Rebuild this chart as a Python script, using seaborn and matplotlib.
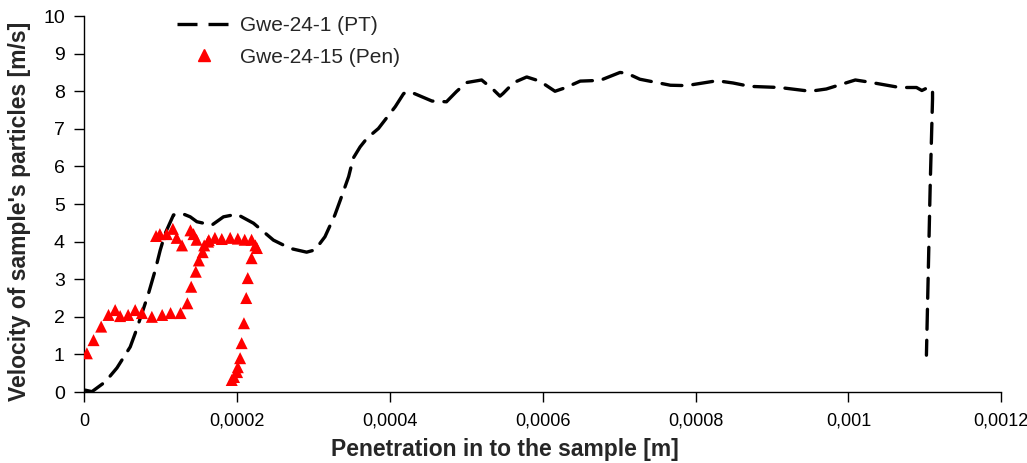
import matplotlib
matplotlib.use("Agg")
import matplotlib.pyplot as plt
import seaborn as sns
import pandas as pd
from matplotlib.ticker import MultipleLocator
from matplotlib.lines import Line2D

# Gwe-24-1 (PT) dashed curve
pt_x = [0.0000013, 0.0000101, 0.0000275, 0.0000428, 0.0000602, 0.0000667, 0.0000755, 0.0000841,
        0.0000929, 0.0000994, 0.000106, 0.0001168, 0.0001278, 0.0001387, 0.0001474, 0.000167,
        0.0001822, 0.0001997, 0.0002215, 0.0002476, 0.0002695, 0.0002910, 0.000302, 0.000315,
        0.000328, 0.000335, 0.000346, 0.000352, 0.000361, 0.000370, 0.000385, 0.000407,
        0.000418, 0.000426, 0.000455, 0.000474, 0.000487, 0.000500, 0.000520, 0.000535,
        0.000544, 0.000548, 0.000562, 0.000579, 0.000596, 0.000616, 0.000629, 0.000649,
        0.000675, 0.000701, 0.000710, 0.000727, 0.000767, 0.000788, 0.000828, 0.000849,
        0.000871, 0.000910, 0.000950, 0.000971, 0.001009, 0.001028, 0.001067, 0.001089,
        0.001096, 0.001104, 0.001110, 0.001110, 0.001107, 0.001102]
pt_y = [0.05, 0.01, 0.27, 0.64, 1.2, 1.56, 2.09, 2.62,
        3.24, 3.77, 4.22, 4.71, 4.75, 4.66, 4.53, 4.44,
        4.66, 4.73, 4.49, 4.04, 3.82, 3.72, 3.78, 4.13,
        4.71, 5.1, 5.73, 6.22, 6.52, 6.75, 7.01, 7.59,
        7.94, 7.99, 7.74, 7.72, 7.99, 8.23, 8.3, 8.05,
        7.87, 7.94, 8.23, 8.38, 8.27, 8.0, 8.09, 8.27,
        8.29, 8.5, 8.48, 8.32, 8.16, 8.15, 8.28, 8.22,
        8.13, 8.1, 8.0, 8.06, 8.3, 8.24, 8.1, 8.1,
        8.02, 8.1, 8.06, 7.8, 5.55, 0.98]

# Gwe-24-15 (Pen) triangles
pen_x = [0.0000035, 0.0000122, 0.0000222, 0.0000318, 0.0000405, 0.0000470, 0.0000575,
         0.0000667, 0.0000755, 0.0000885, 0.000102, 0.000113, 0.000126, 0.000135,
         0.000140, 0.000146, 0.000150, 0.000155, 0.000157, 0.000162,
         0.000094, 0.000099, 0.000108, 0.000116, 0.000121, 0.000128, 0.000139, 0.000143,
         0.000147, 0.000163, 0.000171, 0.000180, 0.000191, 0.000201, 0.000210, 0.000219,
         0.000224, 0.000226,
         0.000219, 0.000214, 0.000212, 0.000209, 0.000206, 0.000204, 0.000201, 0.000200,
         0.000196, 0.000193]
pen_y = [1.03, 1.38, 1.74, 2.05, 2.18, 2.02, 2.05,
         2.18, 2.1, 2.0, 2.05, 2.1, 2.1, 2.36,
         2.8, 3.2, 3.5, 3.72, 3.9, 4.0,
         4.15, 4.2, 4.2, 4.34, 4.1, 3.9, 4.3, 4.2,
         4.05, 4.04, 4.1, 4.07, 4.1, 4.08, 4.05, 4.05,
         3.9, 3.83,
         3.56, 3.03, 2.5, 1.83, 1.3, 0.9, 0.66, 0.53,
         0.4, 0.32]

series_names = ["Gwe-24-1 (PT)", "Gwe-24-15 (Pen)"]
x_ticks = [0, 0.0002, 0.0004, 0.0006, 0.0008, 0.001, 0.0012]
x_tick_labels = ["0", "0,0002", "0,0004", "0,0006", "0,0008", "0,001", "0,0012"]

sns.set_theme(style="white")
plt.rcParams['font.family'] = ['Liberation Sans', 'DejaVu Sans']

fig = plt.figure(figsize=(10.27, 4.63), dpi=100)
ax = fig.add_axes([0.082, 0.1533, 0.893, 0.812])

df_pt = pd.DataFrame({"x": pt_x, "y": pt_y})
df_pen = pd.DataFrame({"x": pen_x, "y": pen_y})

sns.lineplot(data=df_pt, x="x", y="y", sort=False, estimator=None, ax=ax,
             color="black", lw=2.4, dashes=False)
ln = ax.lines[-1]
ln.set_dashes((6, 3.3))
ln.set_dash_capstyle("round")
ln.set_dash_joinstyle("round")
sns.scatterplot(data=df_pen, x="x", y="y", ax=ax, marker="^", color="#ff0000",
                s=75, edgecolor="none", zorder=3)

ax.set_xlim(0, 0.0012)
ax.set_ylim(0, 10)
ax.set_xticks(x_ticks)
ax.set_xticklabels(x_tick_labels)
ax.yaxis.set_major_locator(MultipleLocator(1))

for s in ["top", "right"]:
    ax.spines[s].set_visible(False)
for s in ["left", "bottom"]:
    ax.spines[s].set_color("black")
    ax.spines[s].set_linewidth(1.0)

ax.tick_params(axis="both", which="major", direction="out", length=7, width=1,
               color="black", labelsize=13, labelcolor="black", bottom=True, left=True)
ax.tick_params(axis="x", pad=8)
ax.tick_params(axis="y", pad=7)
for lbl in ax.get_yticklabels():
    lbl.set_fontsize(14)

ax.set_xlabel("Penetration in to the sample [m]", fontsize=16.5, fontweight="bold")
ax.xaxis.set_label_coords(0.459, -0.123)
ax.set_ylabel("Velocity of sample's particles [m/s]", fontsize=16.5, fontweight="bold")
ax.yaxis.set_label_coords(-0.058, 0.48)

handles = [Line2D([0], [0], color="black", lw=2.4, dashes=(6, 3.3)),
           Line2D([0], [0], color="#ff0000", marker="^", lw=0, markersize=8.5)]
ax.legend(handles, series_names, loc="upper left", bbox_to_anchor=(0.081, 1.05),
          frameon=False, fontsize=15, handlelength=2.6, handletextpad=0.4, labelspacing=0.6)

fig.savefig("out.png", dpi=100)
